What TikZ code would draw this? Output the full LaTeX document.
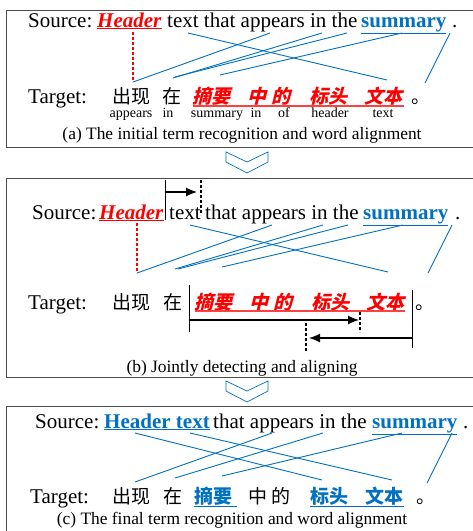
\documentclass[tikz,border=0pt]{standalone}
\usepackage{fontspec}
\setmainfont{Liberation Serif}
\newfontfamily\cjk{Noto Sans CJK SC}
\newfontfamily\cjkterm[FakeSlant=0.25]{Noto Sans CJK SC}
\usetikzlibrary{arrows.meta}
\definecolor{termblue}{RGB}{0,112,192}
\tikzset{
  word/.style={inner sep=0pt, anchor=base west, font=\fontsize{21}{24}\selectfont},
  zh/.style={inner sep=0pt, anchor=base west, font=\cjk\fontsize{19}{20}\selectfont},
  zhterm/.style={inner sep=0pt, anchor=base west, red, font=\cjkterm\bfseries\fontsize{19}{20}\selectfont},
  gloss/.style={inner sep=0pt, anchor=base, font=\fontsize{14}{16}\selectfont},
  caption/.style={inner sep=0pt, anchor=base, font=\fontsize{17.4}{19}\selectfont},
  align/.style={termblue, line width=0.9pt},
  redlink/.style={red, line width=1.2pt, dash pattern=on 3pt off 2pt},
  panel/.style={draw=black!70, line width=0.8pt},
  chevron/.style={draw=termblue, line width=0.7pt},
  marker/.style={black, line width=1pt},
  cut/.style={black, line width=1.6pt, dash pattern=on 3pt off 2pt},
  push/.style={black, line width=1.2pt, -{Latex[length=11pt,width=9pt]}}
}
\newcommand{\redterm}[1]{\textcolor{red}{\underline{\textbf{\textit{#1}}}}}
\newcommand{\blueterm}[1]{\textcolor{termblue}{\underline{\textbf{#1}}}}
\begin{document}
\begin{tikzpicture}[x=1pt,y=-1pt]
\useasboundingbox (0,0) rectangle (473,531);

% panels
\draw[panel] (480,10) -- (6,10) -- (6,147) -- (480,147);
\draw[panel] (480,178) -- (6,178) -- (6,377) -- (480,377);
\draw[panel] (6,540) -- (6,406) -- (480,406);

% chevrons between panels
\draw[chevron] (226,152) -- (247,162) -- (268,152) -- (268,162) -- (247,173) -- (226,162) -- cycle;
\draw[chevron] (226,381) -- (247,391) -- (268,381) -- (268,391) -- (247,402) -- (226,391) -- cycle;

%% (a) initial recognition
\node[word] (srcA) at (28,27) {Source:};
\node[word] (hdrA) at (97,27) {\redterm{Header}};
\node[word] (restA) at (167,27) {text that appears in the};
\node[word] (sumA) at (361,27) {\blueterm{summary}};
\node[word] (dotA) at (452,27) {.};

\node[word] (tgtA) at (28,103) {Target:};
\node[zh] (chuxianA) at (112,103) {出现};
\node[zh] (zaiA) at (162,103) {在};
\node[zhterm] (zhaiyaoA) at (192,103) {摘要};
\node[zhterm] (zhongA) at (247,103) {中};
\node[zhterm] (deA) at (271,103) {的};
\node[zhterm] (biaotouA) at (309,103) {标头};
\node[zhterm] (wenbenA) at (364,103) {文本};
\node[zh] (juhaoA) at (411,103) {。};
\draw[red!75, line width=1.2pt] (193,106) -- (404,106);

\foreach \x/\g [count=\i] in {131/appears,168/in,217/summary,256/in,284/of,330/header,383/text}
  \node[gloss] (glossA\i) at (\x,117) {\g};

\node[caption] (capA) at (242,139) {(a) The initial term recognition and word alignment};

\coordinate (aHeader) at (133,32);  \coordinate (aChuxian) at (133,82);
\coordinate (aText) at (188,33);    \coordinate (aWenben) at (387,80);
\coordinate (aAppears) at (270,33);
\coordinate (aIn) at (322,33);      \coordinate (aZai) at (173,78);
\coordinate (aThe) at (347,33);     \coordinate (aZai2) at (175,77);
\coordinate (aSummary) at (402,33); \coordinate (aZhaiyao) at (220,75);
\coordinate (aDot) at (450,33);     \coordinate (aJuhao) at (425,83);
\draw[redlink] (aHeader) -- (aChuxian);
\draw[align] (aText) -- (aWenben);
\draw[align] (aAppears) -- (aChuxian);
\draw[align] (aIn) -- (aZai);
\draw[align] (aThe) -- (aZai2);
\draw[align] (aSummary) -- (aZhaiyao);
\draw[align] (aDot) -- (aJuhao);

%% (b) joint detecting and aligning
\node[word] (srcB) at (32,219) {Source:};
\node[word] (hdrB) at (99,219) {\redterm{Header}};
\node[word] (textB) at (169,219) {text};
\node[word] (restB) at (205,219) {that appears in the};
\node[word] (sumB) at (363,219) {\blueterm{summary}};
\node[word] (dotB) at (455,219) {.};

\node[word] (tgtB) at (28,309) {Target:};
\node[zh] (chuxianB) at (112,309) {出现};
\node[zh] (zaiB) at (163,309) {在};
\node[zhterm] (zhaiyaoB) at (194,309) {摘要};
\node[zhterm] (zhongB) at (249,309) {中};
\node[zhterm] (deB) at (273,309) {的};
\node[zhterm] (biaotouB) at (311,309) {标头};
\node[zhterm] (wenbenB) at (366,309) {文本};
\node[zh] (juhaoB) at (415,309) {。};
\draw[red!75, line width=1.2pt] (195,311) -- (405,311);

\node[caption] (capB) at (242,372) {(b) Jointly detecting and aligning};

% boundary moves
\coordinate (srcStart) at (165,180); \coordinate (srcStartEnd) at (165,220);
\coordinate (srcCut) at (201,180);   \coordinate (srcCutEnd) at (201,215);
\draw[marker] (srcStart) -- (srcStartEnd);
\draw[push] (165,192) -- (197,192);
\draw[cut] (srcCut) -- (srcCutEnd);

\coordinate (tgtStart) at (189,285); \coordinate (tgtStartEnd) at (189,332);
\coordinate (tgtEnd) at (412,290);   \coordinate (tgtEndEnd) at (412,348);
\draw[marker] (tgtStart) -- (tgtStartEnd);
\draw[marker] (tgtEnd) -- (tgtEndEnd);
\draw[push] (189,320) -- (359,320);
\draw[cut] (360,312) -- (360,332);
\draw[push] (412,338) -- (309,338);
\draw[cut] (306,323) -- (306,351);

\coordinate (bHeader) at (137,223);  \coordinate (bChuxian) at (137,273);
\coordinate (bText) at (190,225);    \coordinate (bWenben) at (388,272);
\coordinate (bAppears) at (272,225);
\coordinate (bIn) at (323,225);      \coordinate (bZai) at (175,269);
\coordinate (bThe) at (348,225);     \coordinate (bZai2) at (178,269);
\coordinate (bSummary) at (403,225); \coordinate (bZhaiyao) at (222,267);
\coordinate (bDot) at (452,225);     \coordinate (bJuhao) at (428,273);
\draw[redlink] (bHeader) -- (bChuxian);
\draw[align] (bText) -- (bWenben);
\draw[align] (bAppears) -- (bChuxian);
\draw[align] (bIn) -- (bZai);
\draw[align] (bThe) -- (bZai2);
\draw[align] (bSummary) -- (bZhaiyao);
\draw[align] (bDot) -- (bJuhao);

%% (c) final recognition
\node[word] (srcC) at (35,428) {Source:};
\node[word] (hdrC) at (104,428) {\blueterm{Header text}};
\node[word] (restC) at (213,428) {that appears in the};
\node[word] (sumC) at (372,428) {\blueterm{summary}};
\node[word] (dotC) at (463,428) {.};

\node[word] (tgtC) at (30,503) {Target:};
\node[zh] (chuxianC) at (112,503) {出现};
\node[zh] (zaiC) at (163,503) {在};
\node[zh,termblue] (zhaiyaoC) at (194,503) {\textbf{摘要}};
\node[zh] (zhongC) at (248,503) {中};
\node[zh] (deC) at (271,503) {的};
\node[zh,termblue] (biaotouC) at (310,503) {\textbf{标头}};
\node[zh,termblue] (wenbenC) at (365,503) {\textbf{文本}};
\node[zh] (juhaoC) at (416,503) {。};
\draw[termblue, line width=1pt] (194,506) -- (237,506);
\draw[termblue, line width=1pt] (310,506) -- (404,506);

\node[caption] (capC) at (232,524) {(c) The final term recognition and word alignment};

\coordinate (cHeader) at (135,433);  \coordinate (cBiaotou) at (322,480);
\coordinate (cText) at (190,433);    \coordinate (cWenben) at (392,480);
\coordinate (cAppears) at (272,433); \coordinate (cChuxian) at (135,482);
\coordinate (cIn) at (323,433);      \coordinate (cZai) at (175,478);
\coordinate (cSummary) at (402,433); \coordinate (cZhaiyao) at (222,476);
\coordinate (cDot) at (452,433);     \coordinate (cJuhao) at (427,483);
\draw[align] (cHeader) -- (cBiaotou);
\draw[align] (cText) -- (cWenben);
\draw[align] (cAppears) -- (cChuxian);
\draw[align] (cIn) -- (cZai);
\draw[align] (cSummary) -- (cZhaiyao);
\draw[align] (cDot) -- (cJuhao);
\end{tikzpicture}
\end{document}
